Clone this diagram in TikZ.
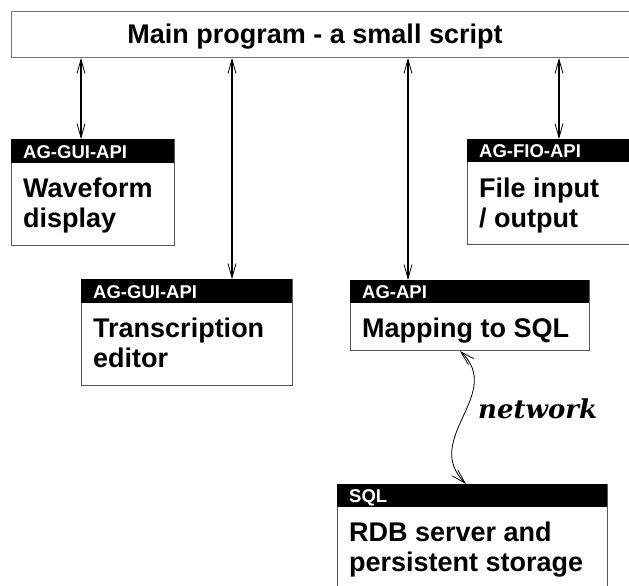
\documentclass[tikz,border=0pt]{standalone}
\usepackage{fontspec}
\setmainfont{Liberation Sans}
\newfontfamily\netfont{DejaVu Serif}
\usetikzlibrary{arrows.meta}
\tikzset{barb/.tip={Straight Barb[length=14pt,width=8pt,line width=0.8pt 0]}}
\begin{document}
\begin{tikzpicture}[x=1pt,y=-1pt,
  boxframe/.style={draw=black!65, line width=1pt, fill=white, inner sep=0pt, anchor=north west},
  hdr/.style={fill=black, inner sep=0pt, anchor=north west},
  hdrtext/.style={text=white, font=\fontsize{18.5}{20}\selectfont\bfseries, anchor=base west, inner sep=0pt},
  bodytext/.style={font=\fontsize{27}{29.5}\selectfont\bfseries, anchor=base west, inner sep=0pt, align=left},
  link/.style={barb-barb, line width=1.8pt},
  wlink/.style={barb-barb, line width=0.8pt}
]
\useasboundingbox (0,0) rectangle (629,586);
\clip (0,0) rectangle (629,586);
\fill[white] (0,0) rectangle (629,586);

% main program
\node[boxframe, draw=black!55, minimum width=629pt, minimum height=46pt] (main) at (11,11) {};
\node[font=\fontsize{27}{29.5}\selectfont\bfseries, anchor=base, inner sep=0pt] (maint) at (315,44) {Main program - a small script};

% waveform
\node[boxframe, minimum width=163pt, minimum height=106pt] (wf) at (11,139) {};
\node[hdr, minimum width=163pt, minimum height=24pt] (wfh) at (11,139) {};
\node[hdrtext] (wfht) at (23,158) {AG-GUI-API};
\node[bodytext] (wft) at (23,227) {Waveform\\display};

% file io
\node[boxframe, minimum width=173pt, minimum height=105pt] (fio) at (467,139) {};
\node[hdr, minimum width=173pt, minimum height=23pt] (fioh) at (467,139) {};
\node[hdrtext] (fioht) at (479,157) {AG-FIO-API};
\node[bodytext] (fiot) at (479,227) {File input\\/ output};

% transcription
\node[boxframe, minimum width=211pt, minimum height=106pt] (tr) at (81,279) {};
\node[hdr, minimum width=211pt, minimum height=24pt] (trh) at (81,279) {};
\node[hdrtext] (trht) at (93,298) {AG-GUI-API};
\node[bodytext] (trt) at (93,367) {Transcription\\editor};

% mapping to SQL
\node[boxframe, minimum width=239pt, minimum height=70pt] (api) at (350,280) {};
\node[hdr, minimum width=239pt, minimum height=23pt] (apih) at (350,280) {};
\node[hdrtext] (apiht) at (362,298) {AG-API};
\node[bodytext] (apit) at (362,337) {Mapping to SQL};

% SQL server
\node[boxframe, minimum width=270pt, minimum height=130pt] (sql) at (337,484) {};
\node[hdr, minimum width=270pt, minimum height=23pt] (sqlh) at (337,484) {};
\node[hdrtext] (sqlht) at (349,502) {SQL};
\node[bodytext] (sqlt) at (349,571) {RDB server and\\persistent storage};

% connectors
\coordinate (c1) at (81,0);
\coordinate (c2) at (232,0);
\coordinate (c3) at (408,0);
\coordinate (c4) at (559,0);
\coordinate (c5) at (460,0);
\coordinate (c6) at (466,0);
\draw[link] (main.south -| c1) -- (wf.north -| c1);
\draw[link] (main.south -| c2) -- (tr.north -| c2);
\draw[link] (main.south -| c3) -- (api.north -| c3);
\draw[link] (main.south -| c4) -- (fio.north -| c4);
\draw[wlink] (api.south -| c5) .. controls (505,394) and (421,439) .. (sql.north -| c6);
\node[font=\netfont\fontsize{26}{28}\selectfont\bfseries\itshape, anchor=base west, inner sep=0pt] (net) at (478,418) {network};
\end{tikzpicture}
\end{document}
